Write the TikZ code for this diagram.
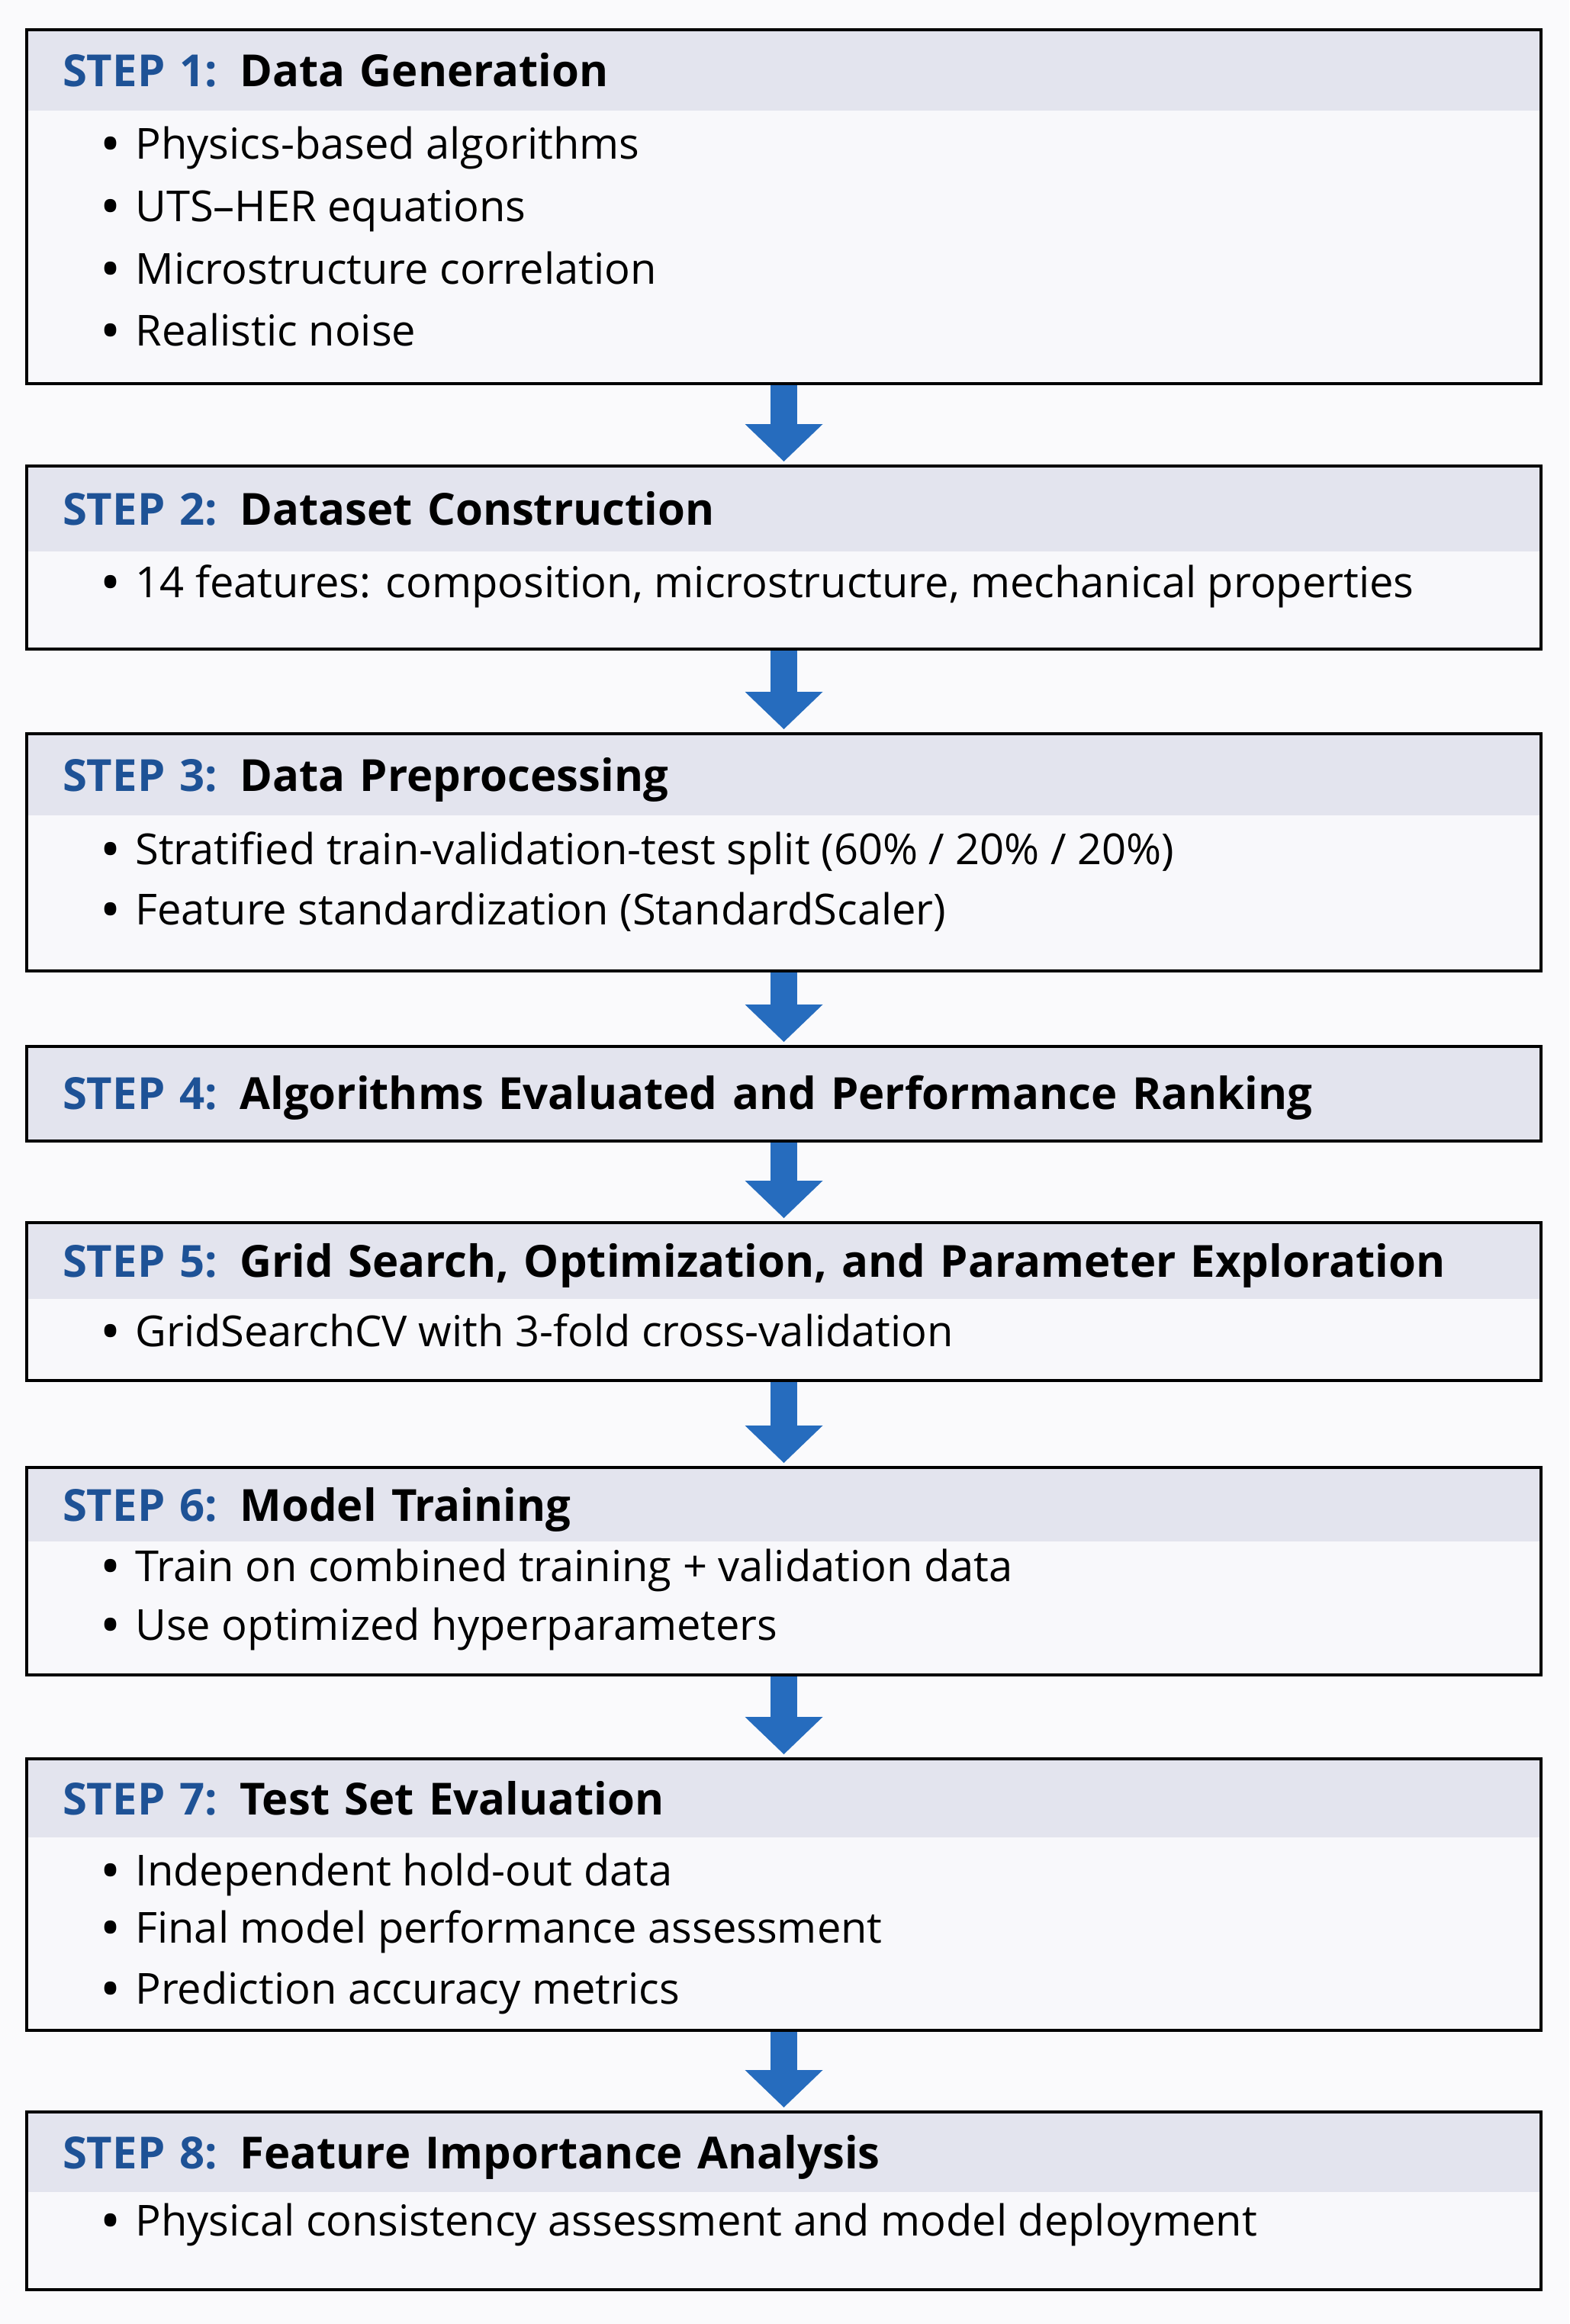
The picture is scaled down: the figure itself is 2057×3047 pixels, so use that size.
\documentclass[tikz,border=0pt]{standalone}
\usepackage{fontspec}
\setmainfont{Open Sans}
\usetikzlibrary{arrows.meta}

\definecolor{stepblue}{RGB}{30,82,150}
\definecolor{arrowblue}{RGB}{38,108,190}
\definecolor{headfill}{RGB}{227,228,238}
\definecolor{bodyfill}{RGB}{248,248,251}
\definecolor{pagefill}{RGB}{250,250,252}

\begin{document}
\begin{tikzpicture}[
        x=0.5pt, y=-0.5pt,
        stepbox/.style={rectangle, draw=black, line width=2pt, fill=bodyfill, minimum width=992.5pt, inner sep=0pt},
        stephead/.style={rectangle, anchor=north, yshift=-2pt, fill=headfill, text width=945.5pt, inner xsep=22.5pt, inner ysep=0pt, align=left, text height=20.5pt, text depth=0pt, font=\bfseries\fontsize{29}{33}\selectfont},
        bullet/.style={anchor=base west, inner sep=0pt, font=\fontsize{28}{32}\selectfont},
        flow/.style={line width=17.5pt, draw=arrowblue, -{Triangle[width=51pt, length=24.5pt, line width=0pt]}, shorten >=2pt}
    ]
        % Page
        \fill[pagefill] (0,0) rectangle (2057,3047);
        \useasboundingbox (0,0) rectangle (2057,3047);

        % Step 1
        \node[stepbox, minimum height=232pt] (s1) at (1027.5,271) {};
        \node[stephead, minimum height=52pt] (h1) at (s1.north) {\textcolor{stepblue}{STEP 1:} Data Generation};
        \node[bullet] (b1a) at (134,208) {\textbf{\textbullet}\hspace{11pt}Physics-based algorithms};
        \node[bullet] (b1b) at (134,290) {\textbf{\textbullet}\hspace{11pt}UTS–HER equations};
        \node[bullet] (b1c) at (134,372) {\textbf{\textbullet}\hspace{11pt}Microstructure correlation};
        \node[bullet] (b1d) at (134,453) {\textbf{\textbullet}\hspace{11pt}Realistic noise};

        % Step 2
        \node[stepbox, minimum height=120pt] (s2) at (1027.5,731) {};
        \node[stephead, minimum height=55pt] (h2) at (s2.north) {\textcolor{stepblue}{STEP 2:} Dataset Construction};
        \node[bullet] (b2a) at (134,783) {\textbf{\textbullet}\hspace{11pt}14 features: composition, microstructure, mechanical properties};

        % Step 3
        \node[stepbox, minimum height=155.5pt] (s3) at (1027.5,1117.5) {};
        \node[stephead, minimum height=52.5pt] (h3) at (s3.north) {\textcolor{stepblue}{STEP 3:} Data Preprocessing};
        \node[bullet] (b3a) at (134,1133) {\textbf{\textbullet}\hspace{11pt}Stratified train-validation-test split (60\% / 20\% / 20\%)};
        \node[bullet] (b3b) at (134,1212) {\textbf{\textbullet}\hspace{11pt}Feature standardization (StandardScaler)};

        % Step 4
        \node[stepbox, minimum height=62pt] (s4) at (1027.5,1434) {};
        \node[stephead, minimum height=60pt] (h4) at (s4.north) {\textcolor{stepblue}{STEP 4:} Algorithms Evaluated and Performance Ranking};

        % Step 5
        \node[stepbox, minimum height=103.5pt] (s5) at (1027.5,1706.5) {};
        \node[stephead, minimum height=49pt] (h5) at (s5.north) {\textcolor{stepblue}{STEP 5:} Grid Search, Optimization, and Parameter Exploration};
        \node[bullet] (b5a) at (134,1765) {\textbf{\textbullet}\hspace{11pt}GridSearchCV with 3-fold cross-validation};

        % Step 6
        \node[stepbox, minimum height=136pt] (s6) at (1027.5,2060) {};
        \node[stephead, minimum height=47.5pt] (h6) at (s6.north) {\textcolor{stepblue}{STEP 6:} Model Training};
        \node[bullet] (b6a) at (134,2073) {\textbf{\textbullet}\hspace{11pt}Train on combined training + validation data};
        \node[bullet] (b6b) at (134,2150) {\textbf{\textbullet}\hspace{11pt}Use optimized hyperparameters};

        % Step 7
        \node[stepbox, minimum height=178pt] (s7) at (1027.5,2484) {};
        \node[stephead, minimum height=50.5pt] (h7) at (s7.north) {\textcolor{stepblue}{STEP 7:} Test Set Evaluation};
        \node[bullet] (b7a) at (134,2472) {\textbf{\textbullet}\hspace{11pt}Independent hold-out data};
        \node[bullet] (b7b) at (134,2547) {\textbf{\textbullet}\hspace{11pt}Final model performance assessment};
        \node[bullet] (b7c) at (134,2627) {\textbf{\textbullet}\hspace{11pt}Prediction accuracy metrics};

        % Step 8
        \node[stepbox, minimum height=116.5pt] (s8) at (1027.5,2885.5) {};
        \node[stephead, minimum height=51.5pt] (h8) at (s8.north) {\textcolor{stepblue}{STEP 8:} Feature Importance Analysis};
        \node[bullet] (b8a) at (134,2931) {\textbf{\textbullet}\hspace{11pt}Physical consistency assessment and model deployment};

        % Flow arrows
        \draw[flow] (s1) -- (s2);
        \draw[flow] (s2) -- (s3);
        \draw[flow] (s3) -- (s4);
        \draw[flow] (s4) -- (s5);
        \draw[flow] (s5) -- (s6);
        \draw[flow] (s6) -- (s7);
        \draw[flow] (s7) -- (s8);

    \end{tikzpicture}
\end{document}
